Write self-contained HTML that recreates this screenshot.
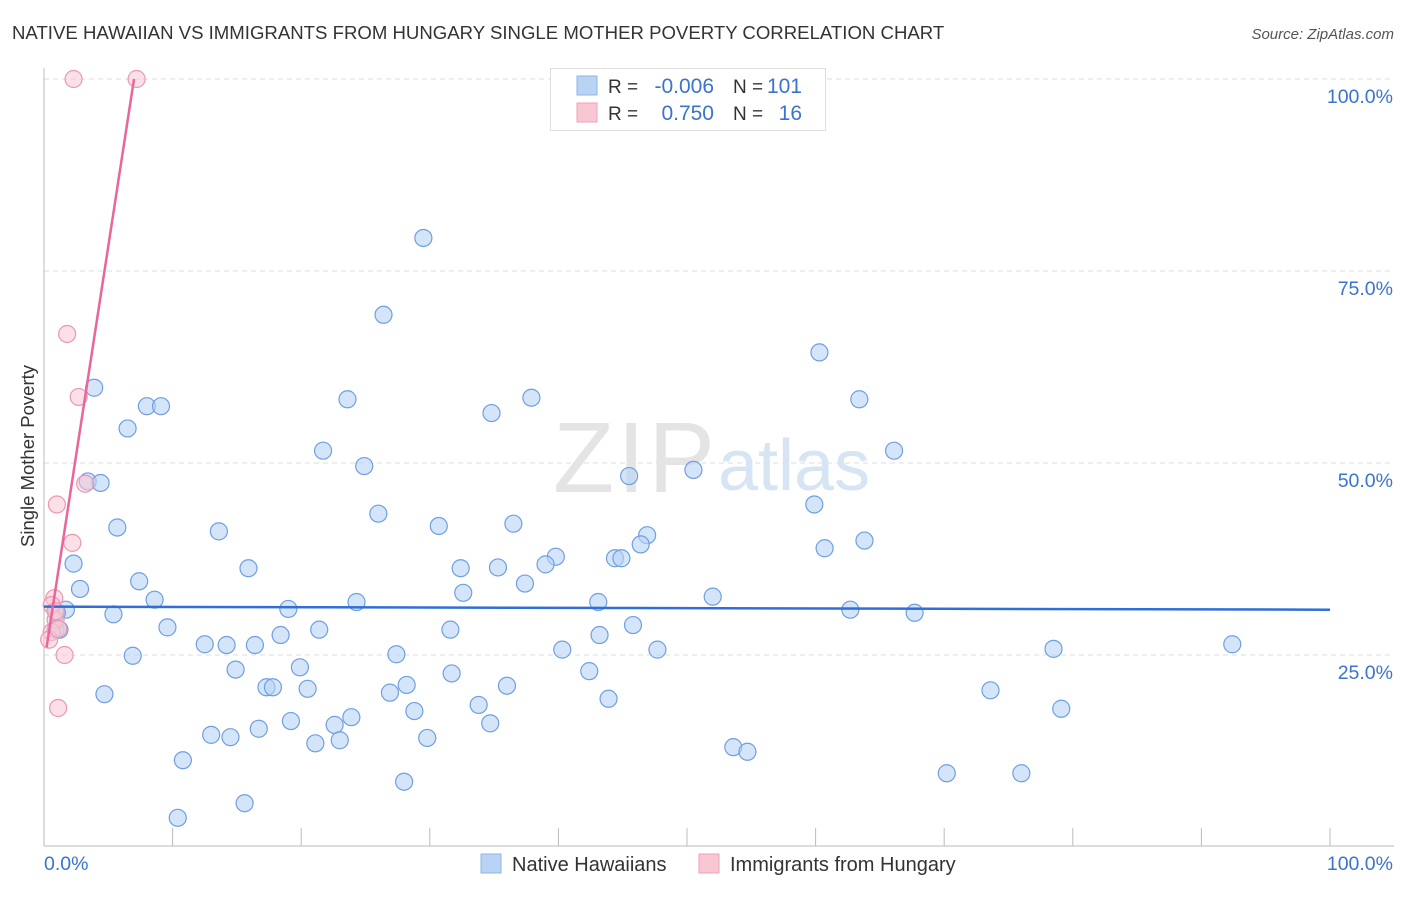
<!DOCTYPE html>
<html><head><meta charset="utf-8"><style>
body{margin:0;background:#fff;font-family:"Liberation Sans",sans-serif;}
svg text{font-family:"Liberation Sans",sans-serif;}
</style></head><body>
<svg id="chart" width="1406" height="892">
<text x="12" y="39" font-size="18.6" fill="#333">NATIVE HAWAIIAN VS IMMIGRANTS FROM HUNGARY SINGLE MOTHER POVERTY CORRELATION CHART</text>
<text x="1394" y="39" font-size="15" fill="#555" font-style="italic" text-anchor="end">Source: ZipAtlas.com</text>
<g id="grid"></g>
<g id="axes"></g>
<text x="553" y="492" font-size="100" fill="#e4e4e4" textLength="162" font-family="Liberation Serif">ZIP</text>
<text x="718" y="490" font-size="72" fill="#d6e4f4">atlas</text>
<g id="blue"></g>
<g id="pink"></g>
<g id="lines"></g>
<text x="34" y="456" font-size="18.5" fill="#333" text-anchor="middle" transform="rotate(-90 34 456)">Single Mother Poverty</text>
<g>
<rect x="550.5" y="68.5" width="275" height="62" fill="#fff" stroke="#ddd"/>
<rect x="577" y="76" width="20" height="19" fill="#b9d3f5" stroke="#8fb4e8"/>
<rect x="577" y="103" width="20" height="19" fill="#f9c6d4" stroke="#efa0b8"/>
<text x="608" y="93" font-size="19" fill="#333">R =</text><text x="714" y="93" font-size="21" fill="#3a73d0" text-anchor="end">-0.006</text>
<text x="733" y="93" font-size="19" fill="#333">N =</text><text x="802" y="93" font-size="21" fill="#3a73d0" text-anchor="end">101</text>
<text x="608" y="120" font-size="19" fill="#333">R =</text><text x="714" y="120" font-size="21" fill="#3a73d0" text-anchor="end">0.750</text>
<text x="733" y="120" font-size="19" fill="#333">N =</text><text x="802" y="120" font-size="21" fill="#3a73d0" text-anchor="end">16</text>
</g>
<g>
<rect x="481" y="854" width="20" height="19" fill="#b9d3f5" stroke="#8fb4e8"/>
<text x="512" y="871" font-size="20" fill="#333">Native Hawaiians</text>
<rect x="699" y="854" width="20" height="19" fill="#f9c6d4" stroke="#efa0b8"/>
<text x="730" y="871" font-size="20" fill="#333">Immigrants from Hungary</text>
</g>
</svg>
<script>
const blueX=[29.5,26.4,60.3,3.9,37.9,23.6,63.4,8.0,9.1,34.8,6.5,21.7,66.1,24.9,50.5,45.5,3.4,4.4,59.9,26.0,36.5,30.7,5.7,13.6,46.9,60.7,63.8,46.4,39.8,44.4,44.9,39.0,2.3,15.9,32.4,35.3,37.4,7.4,2.8,32.6,52.0,8.6,24.3,43.1,19.0,62.7,67.7,1.7,5.4,9.6,45.8,21.4,31.6,18.4,43.2,12.5,14.2,16.4,92.4,40.3,47.7,78.5,6.9,27.4,19.9,14.9,42.4,31.7,17.3,17.8,20.5,28.2,36.0,4.7,26.9,73.6,43.9,33.8,28.8,79.1,19.2,23.9,22.6,34.7,16.7,13.0,14.5,29.8,21.1,23.0,53.6,54.7,10.8,70.2,76.0,28.0,15.6,10.4,0.9,1.2,1.0];
const blueY=[79.3,69.3,64.4,59.8,58.5,58.3,58.3,57.4,57.4,56.5,54.5,51.6,51.6,49.6,49.1,48.3,47.6,47.4,44.6,43.4,42.1,41.8,41.6,41.1,40.6,38.9,39.9,39.4,37.8,37.6,37.6,36.8,36.9,36.3,36.3,36.4,34.3,34.6,33.6,33.1,32.6,32.2,31.9,31.9,31.0,30.9,30.5,30.9,30.3,28.6,28.9,28.3,28.3,27.6,27.6,26.4,26.3,26.3,26.4,25.7,25.7,25.8,24.9,25.1,23.4,23.1,22.9,22.6,20.8,20.8,20.6,21.1,21.0,19.9,20.1,20.4,19.3,18.5,17.7,18.0,16.4,16.9,15.9,16.1,15.4,14.6,14.3,14.2,13.5,13.9,13.0,12.4,11.3,9.6,9.6,8.5,5.7,3.8,28.3,28.3,30.5];
const pinkX=[2.3,7.2,1.8,2.7,3.2,1.0,2.2,0.8,0.6,0.9,0.6,0.4,1.6,1.1,1.1,0.9];
const pinkY=[100,100,66.8,58.6,47.3,44.6,39.6,32.4,31.5,29.6,28.0,27.0,25.0,18.1,28.4,30.7];
const blueTrend=[31.3,30.9];
const pinkTrend=[26.0,100];
const pinkTrendX=[0.2,7.0];
const yTicks=[25,50,75,100];
const yTickLabels=["25.0%","50.0%","75.0%","100.0%"];
const xTicks=[0,10,20,30,40,50,60,70,80,90,100];
const sx=v=>44+v*12.86, sy=v=>847-v*7.68;
const NS="http://www.w3.org/2000/svg";
function mk(tag,attrs,parent){const e=document.createElementNS(NS,tag);for(const k in attrs)e.setAttribute(k,attrs[k]);parent.appendChild(e);return e;}
const grid=document.getElementById('grid'),axes=document.getElementById('axes');
yTicks.forEach((t,i)=>{
 const l=mk('line',{x1:44,x2:1394,y1:sy(t),y2:sy(t),stroke:'#ddd','stroke-dasharray':'5,4'},grid);
 
 
 const tx=mk('text',{x:1393,y:sy(t)+24,'font-size':19.5,fill:'#3a73d0','text-anchor':'end'},axes);
 tx.textContent=yTickLabels[i];
 
 
});
const ax=mk('line',{x1:44,x2:1394,y1:846,y2:846,stroke:'#bbb'},axes);


const ay=mk('line',{x1:44,x2:44,y1:68,y2:846,stroke:'#bbb'},axes);


xTicks.forEach(t=>{const l=mk('line',{x1:sx(t),x2:sx(t),y1:828,y2:846,stroke:'#bbb'},axes);
 
 });
const x0=mk('text',{x:44,y:870,'font-size':19.5,fill:'#3a73d0'},axes);x0.textContent='0.0%';


const x1=mk('text',{x:1393,y:870,'font-size':19.5,fill:'#3a73d0','text-anchor':'end'},axes);x1.textContent='100.0%';


const bg=document.getElementById('blue');
blueX.forEach((v,i)=>{const c=mk('circle',{cx:sx(v),cy:sy(blueY[i]),r:8.5,fill:'#b9d3f5','fill-opacity':0.6,stroke:'#6f9fe0','stroke-width':1.2},bg);
 
 });
const pg=document.getElementById('pink');
pinkX.forEach((v,i)=>{const c=mk('circle',{cx:sx(v),cy:sy(pinkY[i]),r:8.5,fill:'#f9c6d4','fill-opacity':0.55,stroke:'#eb98b2','stroke-width':1.2},pg);
 
 });
const lg=document.getElementById('lines');
const bl=mk('line',{x1:sx(0),x2:sx(100),y1:sy(blueTrend[0]),y2:sy(blueTrend[1]),stroke:'#2f6fd6','stroke-width':2.5},lg);


const pl=mk('line',{x1:sx(pinkTrendX[0]),x2:sx(pinkTrendX[1]),y1:sy(pinkTrend[0]),y2:sy(pinkTrend[1]),stroke:'#e8669a','stroke-width':2.5},lg);


</script>
</body></html>
